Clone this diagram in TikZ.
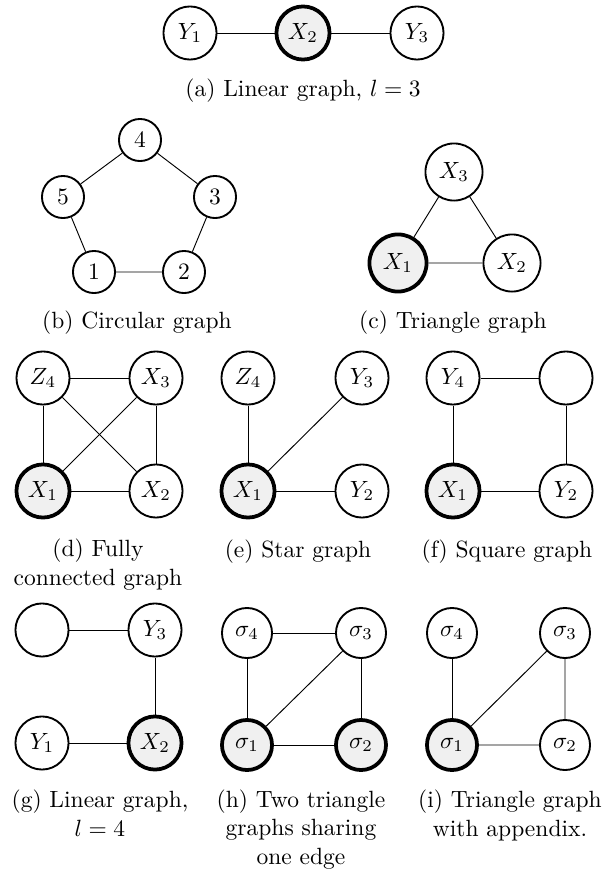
\documentclass[tikz,border=0pt]{standalone}

\begin{document}
\begin{tikzpicture}[x=0.4255pt,y=-0.4255pt,var/.style={circle,draw,thick,minimum size=22.6pt,inner sep=0pt},obs/.style={var,fill=gray!12,line width=1.6pt},caption/.style={anchor=base,align=center}]
      \useasboundingbox (0,0) rectangle (603,873);
      \node[var] (linear 1) at (190,33) {$Y_1$};
      \node[obs] (linear 2) at (303,33) {$X_2$};
      \node[var] (linear 3) at (417,33) {$Y_3$};
      \draw (linear 1) -- (linear 2) -- (linear 3);
      \node[caption] (caption a) at (303,96) {(a) Linear graph, $l=3$};
      \node[var,minimum size=17.9pt] (circle 1) at (94,272) {1};
      \node[var,minimum size=17.9pt] (circle 2) at (184,272) {2};
      \node[var,minimum size=17.9pt] (circle 3) at (215,197) {3};
      \node[var,minimum size=17.9pt] (circle 4) at (140,140) {4};
      \node[var,minimum size=17.9pt] (circle 5) at (63,197) {5};
      \draw (circle 1) -- (circle 2) -- (circle 3) -- (circle 4) -- (circle 5) -- (circle 1);
      \node[caption] (caption b) at (137,328) {(b) Circular graph};
      \node[obs,minimum size=24.3pt] (triangle 1) at (398,263) {$X_1$};
      \node[var,minimum size=24.3pt] (triangle 2) at (512,263) {$X_2$};
      \node[var,minimum size=24.3pt] (triangle 3) at (454,172) {$X_3$};
      \draw (triangle 1) -- (triangle 2) -- (triangle 3) -- (triangle 1);
      \node[caption] (caption c) at (453,328) {(c) Triangle graph};
      \node[obs] (full 1) at (43,491) {$X_1$};
      \node[var] (full 2) at (156,491) {$X_2$};
      \node[var] (full 3) at (156,378) {$X_3$};
      \node[var] (full 4) at (43,378) {$Z_4$};
      \draw (full 1) -- (full 2) -- (full 3) -- (full 4) -- (full 1);
      \draw (full 1) -- (full 3);
      \draw (full 2) -- (full 4);
      \node[caption] (caption d) at (98,585) {(d) Fully\\connected graph};
      \node[obs] (star 1) at (248,491) {$X_1$};
      \node[var] (star 2) at (362,491) {$Y_2$};
      \node[var] (star 3) at (362,378) {$Y_3$};
      \node[var] (star 4) at (248,378) {$Z_4$};
      \draw (star 1) -- (star 2);
      \draw (star 1) -- (star 3);
      \draw (star 1) -- (star 4);
      \node[caption] (caption e) at (298,557) {(e) Star graph};
      \node[obs] (square 1) at (453,491) {$X_1$};
      \node[var] (square 2) at (566,491) {$Y_2$};
      \node[var] (square 3) at (566,378) {};
      \node[var] (square 4) at (453,378) {$Y_4$};
      \draw (square 1) -- (square 2) -- (square 3) -- (square 4) -- (square 1);
      \node[caption] (caption f) at (507,557) {(f) Square graph};
      \node[var] (chain 1) at (42,743) {$Y_1$};
      \node[obs] (chain 2) at (155,743) {$X_2$};
      \node[var] (chain 3) at (155,630) {$Y_3$};
      \node[var] (chain 4) at (42,630) {};
      \draw (chain 1) -- (chain 2) -- (chain 3) -- (chain 4);
      \node[caption] (caption g) at (100,836) {(g) Linear graph,\\$l=4$};
      \node[obs,minimum size=21.3pt] (shared 1) at (247,745) {$\sigma_1$};
      \node[obs,minimum size=21.3pt] (shared 2) at (361,745) {$\sigma_2$};
      \node[var,minimum size=21.3pt] (shared 3) at (361,633) {$\sigma_3$};
      \node[var,minimum size=21.3pt] (shared 4) at (247,633) {$\sigma_4$};
      \draw (shared 1) -- (shared 2) -- (shared 3) -- (shared 4) -- (shared 1);
      \draw (shared 1) -- (shared 3);
      \node[caption] (caption h) at (301,864) {(h) Two triangle\\graphs sharing\\one edge};
      \node[obs,minimum size=21.3pt] (appendix 1) at (452,745) {$\sigma_1$};
      \node[var,minimum size=21.3pt] (appendix 2) at (565,745) {$\sigma_2$};
      \node[var,minimum size=21.3pt] (appendix 3) at (565,633) {$\sigma_3$};
      \node[var,minimum size=21.3pt] (appendix 4) at (452,633) {$\sigma_4$};
      \draw (appendix 1) -- (appendix 2) -- (appendix 3) -- (appendix 1);
      \draw (appendix 1) -- (appendix 4);
      \node[caption] (caption i) at (510,836) {(i) Triangle graph\\with appendix.};
    \end{tikzpicture}
\end{document}
